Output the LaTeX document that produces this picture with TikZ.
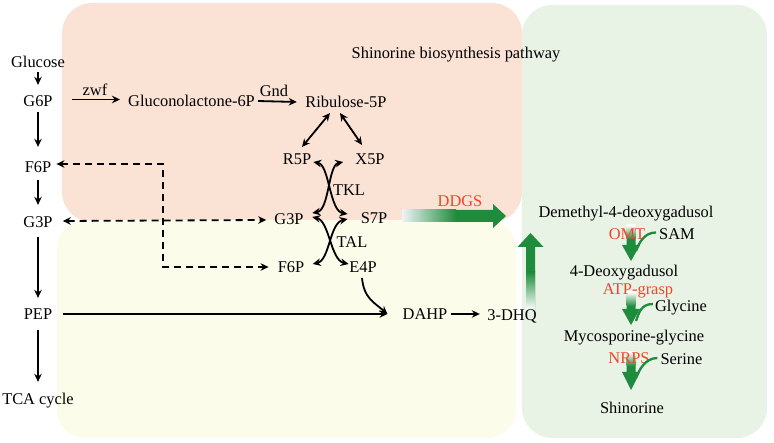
\documentclass[tikz,border=0pt]{standalone}
\usepackage{fontspec}
\setmainfont{Liberation Serif}
\usetikzlibrary{arrows.meta,calc}
\definecolor{peach}{HTML}{FAE2D5}
\definecolor{paleyel}{HTML}{FCFCEA}
\definecolor{palegrn}{HTML}{E8F2E5}
\definecolor{arrgrn}{HTML}{1E8C3C}
\definecolor{enz}{HTML}{F04628}
\definecolor{startwhite}{HTML}{F0F3F8}
\begin{document}
\begin{tikzpicture}[x=1pt,y=-1pt,
  lbl/.style={font=\fontsize{16.4}{19}\selectfont, inner sep=2pt, text height=10.7pt, text depth=0pt},
  enzl/.style={lbl, text=enz},
  arr/.style={line width=1.8pt, -{Stealth[length=8pt,width=7.5pt]}},
  darr/.style={line width=1.8pt, {Stealth[length=8pt,width=7.5pt]}-{Stealth[length=8pt,width=7.5pt]}},
  dsh/.style={darr, dash pattern=on 7pt off 5pt},
  hook/.style={draw=arrgrn, line width=2.3pt},
]
\useasboundingbox (0,0) rectangle (774,443);
% background panels
\fill[peach, rounded corners=30pt] (62,3) rectangle (522,222);
\fill[paleyel, rounded corners=28pt] (57,220) rectangle (516,438);
\fill[palegrn, rounded corners=30pt] (522,5) rectangle (767,438);

% big green arrows
\fill[arrgrn] (402,210) -- (493,210) -- (493,204) -- (506,216) -- (493,228) -- (493,222) -- (402,222) -- cycle;
\shade[left color=startwhite, right color=arrgrn] (402,210) rectangle (456,222);
\fill[arrgrn] (526,310) -- (526,247) -- (517.5,247) -- (530.5,233) -- (543.5,247) -- (535,247) -- (535,310) -- cycle;
\shade[top color=arrgrn, bottom color=white] (526,272) rectangle (535,310);

% right column arrows
\foreach \yt/\yb/\ytip in {225/245/261, 292/309/325, 352/372/390}{
  \fill[arrgrn] (626.5,\yt) -- (626.5,\yb) -- (622,\yb) -- (631,\ytip) -- (640,\yb) -- (635.5,\yb) -- (635.5,\yt) -- cycle;
  \shade[top color=white, bottom color=arrgrn] (626.5,\yt) rectangle (635.5,\yt+14);
}

% nodes
\node[lbl] (glucose) at (38,62) {Glucose};
\node[lbl] (g6p) at (38,101) {G6P};
\node[lbl] (f6p) at (38,167) {F6P};
\node[lbl] (g3p) at (38,222) {G3P};
\node[lbl] (pep) at (38,314) {PEP};
\node[lbl] (tca) at (38,399) {TCA cycle};
\node[lbl] (zwf) at (95,90) {zwf};
\node[lbl] (gluco) at (191.5,101) {Gluconolactone-6P};
\node[lbl] (gnd) at (274,91) {Gnd};
\node[lbl] (ribu) at (346,102) {Ribulose-5P};
\node[lbl] (title) at (456,53) {Shinorine biosynthesis pathway};
\node[lbl] (r5p) at (297,159) {R5P};
\node[lbl] (x5p) at (370,159) {X5P};
\node[lbl] (tkl) at (349,190) {TKL};
\node[lbl] (g3pm) at (289,219) {G3P};
\node[lbl] (s7p) at (374,218) {S7P};
\node[lbl] (tal) at (352,242) {TAL};
\node[lbl] (f6pm) at (291,267) {F6P};
\node[lbl] (e4p) at (363,267) {E4P};
\node[lbl] (dahp) at (425,314) {DAHP};
\node[lbl] (dhq) at (512,315) {3-DHQ};
\node[enzl] (ddgs) at (460,201) {DDGS};
\node[lbl] (demethyl) at (626,212) {Demethyl-4-deoxygadusol};
\node[enzl] (omt) at (627,234.5) {OMT};
\node[lbl] (sam) at (677,234.5) {SAM};
\node[lbl] (deoxy) at (624,271) {4-Deoxygadusol};
\node[enzl] (atp) at (638,289) {ATP-grasp};
\node[lbl] (glycine) at (681,306) {Glycine};
\node[lbl] (myco) at (634,336) {Mycosporine-glycine};
\node[enzl] (nrps) at (629,358) {NRPS};
\node[lbl] (serine) at (681.5,359) {Serine};
\node[lbl] (shin) at (632,408) {Shinorine};

% green hooks
\draw[hook] ($(sam.west)+(-1,-2)$) .. controls +(-12,0) and +(3,-8) .. (636,251);
\draw[hook] ($(glycine.west)+(0,-2)$) .. controls +(-12,0) and +(3,-8) .. (636,321);
\draw[hook] ($(serine.west)+(-1,-1)$) .. controls +(-12,0) and +(3,-8) .. (636,378);

% left column
\draw[arr, shorten <=2.6pt, shorten >=8.6pt] (glucose) -- (g6p);
\draw[arr, shorten <=3.6pt, shorten >=12.6pt] (g6p) -- (f6p);
\draw[arr, shorten <=5.6pt, shorten >=9.6pt] (f6p) -- (g3p);
\draw[arr, shorten <=7.6pt, shorten >=8.6pt] (g3p) -- (pep);
\draw[arr, shorten <=8.6pt, shorten >=9.6pt] (pep) -- (tca);

% pentose phosphate
\draw[arr] ($(g6p.east)+(17.4,-1.5)$) -- ($(gluco.west)+(-6,-1.5)$);
\draw[arr] ($(gluco.east)+(1,0)$) -- ($(ribu.west)+(-6.5,0)$);
\draw[darr] ($(ribu.south)+(-16,3.5)$) -- ($(r5p.north)+(5,-4.5)$);
\draw[darr] ($(ribu.south)+(-6,3.5)$) -- ($(x5p.north)+(-8,-6.5)$);
% TKL
\draw[darr] ($(r5p.east)+(0,3)$) .. controls +(16,3) and +(-18,-3) .. ($(s7p.west)+(-11,-4)$);
\draw[darr] ($(x5p.west)+(-10,3)$) .. controls +(-15,3) and +(17,-3) .. ($(g3pm.east)+(6.5,-6)$);
% TAL
\draw[darr] ($(g3pm.east)+(6.5,-2)$) .. controls +(17,4) and +(-18,-4) .. ($(e4p.west)+(1.5,-3)$);
\draw[darr] ($(s7p.west)+(-11,1)$) .. controls +(-18,4) and +(17,-4) .. ($(f6pm.east)+(6.3,-3)$);

% dashed links
\coordinate (dcorner) at (163,164);
\draw[dsh] ($(f6p.east)+(3,-3)$) -- (dcorner) |- ($(f6pm.west)+(-7,0)$);
\draw[dsh] ($(g3p.east)+(8,-1)$) -- ($(g3pm.west)+(-6,1)$);

% to DAHP
\draw[arr] ($(pep.east)+(9,0)$) -- ($(dahp.west)+(-13,0)$);
\draw[arr] ($(e4p.south)+(-1,3.5)$) .. controls +(2,20) and +(-14,-12) .. ($(dahp.west)+(-13,0)$);
\draw[arr] ($(dahp.east)+(1.7,0)$) -- ($(dhq.west)+(-5.4,-1)$);
\end{tikzpicture}
\end{document}
